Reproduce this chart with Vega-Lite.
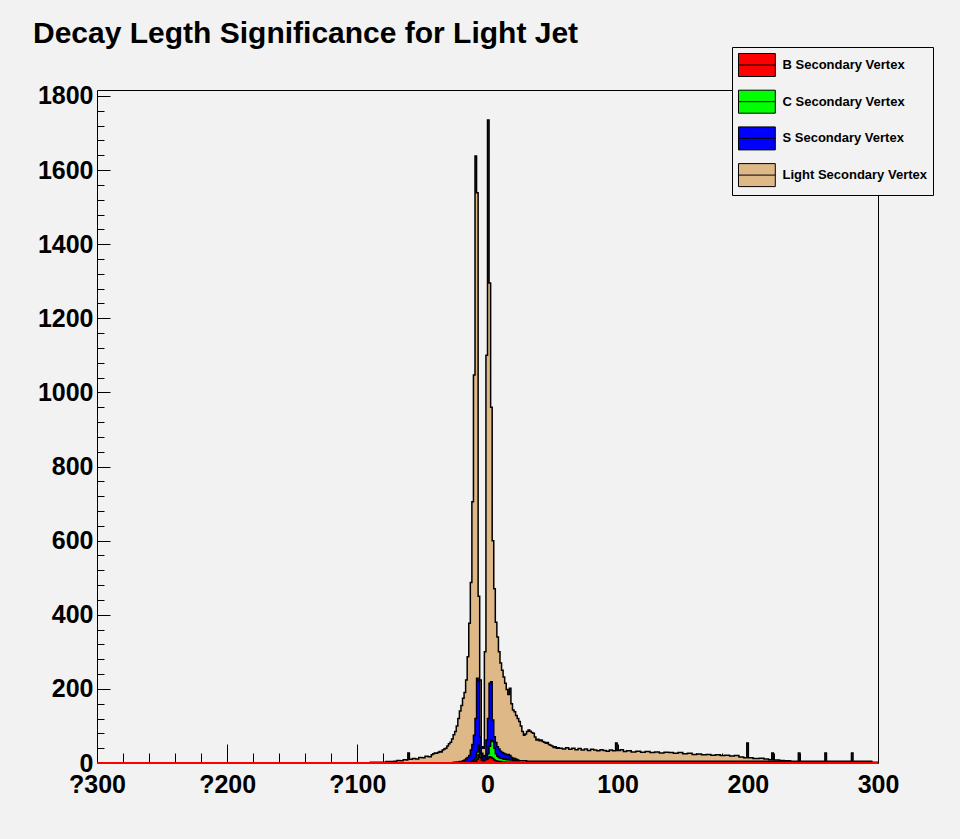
{
  "$schema": "https://vega.github.io/schema/vega-lite/v6.json",
  "width": 781,
  "height": 673,
  "autosize": {"type": "none"},
  "padding": {"left": 97, "top": 90, "right": 82, "bottom": 76},
  "background": "#f2f2f2",
  "config": {
    "view": {"stroke": "black", "strokeWidth": 1, "fill": "#f2f2f2"},
    "font": "Liberation Sans, Arial, sans-serif"
  },
  "title": {
    "text": "Decay Legth Significance for Light Jet",
    "anchor": "start",
    "frame": "group",
    "dx": -64,
    "offset": -26,
    "baseline": "alphabetic",
    "font": "Liberation Sans, Arial, sans-serif",
    "fontSize": 30,
    "fontWeight": "bold",
    "color": "black"
  },
  "datasets": {
    "light": [
      {"x": -300, "n": 0}, {"x": -90, "n": 2}, {"x": -78, "n": 4}, {"x": -72, "n": 5}, {"x": -69.6, "n": 7},
      {"x": -67.2, "n": 6}, {"x": -64.8, "n": 9}, {"x": -62.4, "n": 8}, {"x": -61.2, "n": 27}, {"x": -60, "n": 10},
      {"x": -57.6, "n": 12}, {"x": -55.2, "n": 11}, {"x": -52.8, "n": 15}, {"x": -50.4, "n": 14}, {"x": -48, "n": 18},
      {"x": -45.6, "n": 17}, {"x": -43.2, "n": 22}, {"x": -42, "n": 25}, {"x": -40.8, "n": 27}, {"x": -39.6, "n": 26},
      {"x": -38.4, "n": 28}, {"x": -37.2, "n": 31}, {"x": -36, "n": 30}, {"x": -34.8, "n": 35}, {"x": -33.6, "n": 38},
      {"x": -32.4, "n": 40}, {"x": -31.2, "n": 46}, {"x": -30, "n": 52}, {"x": -28.8, "n": 56}, {"x": -27.6, "n": 65},
      {"x": -26.4, "n": 76}, {"x": -25.2, "n": 85}, {"x": -24, "n": 100}, {"x": -22.8, "n": 120}, {"x": -21.6, "n": 140},
      {"x": -20.4, "n": 155}, {"x": -19.2, "n": 175}, {"x": -18, "n": 190}, {"x": -16.8, "n": 224}, {"x": -15.6, "n": 287},
      {"x": -14.4, "n": 377}, {"x": -13.2, "n": 487}, {"x": -12, "n": 705}, {"x": -10.8, "n": 1047}, {"x": -9.6, "n": 1638},
      {"x": -8.4, "n": 1539}, {"x": -7.2, "n": 450}, {"x": -6, "n": 224}, {"x": -4.8, "n": 44}, {"x": -3.6, "n": 40},
      {"x": -2.4, "n": 300}, {"x": -1.2, "n": 1100}, {"x": 0, "n": 1735}, {"x": 1.2, "n": 1295}, {"x": 2.4, "n": 960},
      {"x": 3.6, "n": 600}, {"x": 4.8, "n": 470}, {"x": 6, "n": 380}, {"x": 7.2, "n": 340}, {"x": 8.4, "n": 300},
      {"x": 9.6, "n": 270}, {"x": 10.8, "n": 250}, {"x": 12, "n": 232}, {"x": 13.2, "n": 215}, {"x": 14.4, "n": 198},
      {"x": 15.6, "n": 185}, {"x": 16.8, "n": 202}, {"x": 18, "n": 160}, {"x": 19.2, "n": 143}, {"x": 20.4, "n": 138},
      {"x": 21.6, "n": 128}, {"x": 22.8, "n": 120}, {"x": 24, "n": 112}, {"x": 25.2, "n": 100}, {"x": 26.4, "n": 85},
      {"x": 27.6, "n": 75}, {"x": 28.8, "n": 78}, {"x": 30, "n": 85}, {"x": 31.2, "n": 89}, {"x": 32.4, "n": 86},
      {"x": 33.6, "n": 82}, {"x": 34.8, "n": 80}, {"x": 36, "n": 70}, {"x": 37.2, "n": 62}, {"x": 38.4, "n": 64},
      {"x": 39.6, "n": 60}, {"x": 40.8, "n": 62}, {"x": 42, "n": 58}, {"x": 43.2, "n": 56}, {"x": 44.4, "n": 53},
      {"x": 45.6, "n": 55}, {"x": 46.8, "n": 50}, {"x": 48, "n": 48}, {"x": 49.2, "n": 46}, {"x": 50.4, "n": 42},
      {"x": 51.6, "n": 44}, {"x": 52.8, "n": 40}, {"x": 54, "n": 41}, {"x": 55.2, "n": 40}, {"x": 57.6, "n": 38},
      {"x": 60, "n": 41}, {"x": 62.4, "n": 37}, {"x": 64.8, "n": 40}, {"x": 67.2, "n": 36}, {"x": 69.6, "n": 39},
      {"x": 72, "n": 35}, {"x": 74.4, "n": 38}, {"x": 76.8, "n": 34}, {"x": 79.2, "n": 37}, {"x": 81.6, "n": 35},
      {"x": 84, "n": 33}, {"x": 86.4, "n": 36}, {"x": 88.8, "n": 34}, {"x": 91.2, "n": 32}, {"x": 93.6, "n": 35},
      {"x": 96, "n": 33}, {"x": 98.4, "n": 54}, {"x": 99.6, "n": 34}, {"x": 102, "n": 36}, {"x": 104.4, "n": 31},
      {"x": 106.8, "n": 33}, {"x": 110.4, "n": 30}, {"x": 114, "n": 32}, {"x": 117.6, "n": 29}, {"x": 121.2, "n": 31},
      {"x": 124.8, "n": 28}, {"x": 128.4, "n": 30}, {"x": 132, "n": 27}, {"x": 135.6, "n": 29}, {"x": 139.2, "n": 28},
      {"x": 142.8, "n": 26}, {"x": 146.4, "n": 28}, {"x": 150, "n": 25}, {"x": 153.6, "n": 26}, {"x": 157.2, "n": 23},
      {"x": 160.8, "n": 24}, {"x": 164.4, "n": 22}, {"x": 168, "n": 23}, {"x": 171.6, "n": 21}, {"x": 175.2, "n": 22},
      {"x": 178.8, "n": 20}, {"x": 182.4, "n": 21}, {"x": 186, "n": 19}, {"x": 189.6, "n": 20}, {"x": 193.2, "n": 16},
      {"x": 196.8, "n": 14}, {"x": 199.2, "n": 54}, {"x": 200.4, "n": 14}, {"x": 204, "n": 12}, {"x": 208.8, "n": 13},
      {"x": 212.4, "n": 11}, {"x": 216, "n": 9}, {"x": 218.4, "n": 27}, {"x": 219.6, "n": 8}, {"x": 224.4, "n": 7},
      {"x": 228, "n": 6}, {"x": 232.8, "n": 3}, {"x": 238.8, "n": 27}, {"x": 240, "n": 2}, {"x": 259.2, "n": 27},
      {"x": 260.4, "n": 2}, {"x": 279.6, "n": 27}, {"x": 280.8, "n": 2}, {"x": 300, "n": 2}
    ],
    "s": [
      {"x": -300, "n": 0}, {"x": -26.4, "n": 2}, {"x": -24, "n": 3}, {"x": -21.6, "n": 4}, {"x": -19.2, "n": 6},
      {"x": -18, "n": 8}, {"x": -16.8, "n": 12}, {"x": -15.6, "n": 15}, {"x": -14.4, "n": 20}, {"x": -13.2, "n": 35},
      {"x": -12, "n": 50}, {"x": -10.8, "n": 75}, {"x": -9.6, "n": 120}, {"x": -8.4, "n": 229}, {"x": -7.2, "n": 222},
      {"x": -6, "n": 70}, {"x": -4.8, "n": 26}, {"x": -3.6, "n": 17}, {"x": -2.4, "n": 20}, {"x": -1.2, "n": 62},
      {"x": 0, "n": 120}, {"x": 1.2, "n": 215}, {"x": 2.4, "n": 219}, {"x": 3.6, "n": 116}, {"x": 4.8, "n": 71},
      {"x": 6, "n": 55}, {"x": 7.2, "n": 44}, {"x": 8.4, "n": 38}, {"x": 9.6, "n": 32}, {"x": 10.8, "n": 28},
      {"x": 12, "n": 26}, {"x": 13.2, "n": 24}, {"x": 14.4, "n": 22}, {"x": 15.6, "n": 23}, {"x": 16.8, "n": 20},
      {"x": 18, "n": 15}, {"x": 19.2, "n": 13}, {"x": 20.4, "n": 12}, {"x": 21.6, "n": 10}, {"x": 22.8, "n": 8},
      {"x": 24, "n": 6}, {"x": 26.4, "n": 4}, {"x": 30, "n": 3}, {"x": 36, "n": 2}, {"x": 48, "n": 1},
      {"x": 96, "n": 0}, {"x": 300, "n": 0}
    ],
    "c": [
      {"x": -300, "n": 0}, {"x": -14.4, "n": 3}, {"x": -12, "n": 6}, {"x": -10.8, "n": 8}, {"x": -9.6, "n": 14},
      {"x": -8.4, "n": 30}, {"x": -7.2, "n": 48}, {"x": -6, "n": 25}, {"x": -4.8, "n": 10}, {"x": -3.6, "n": 8},
      {"x": -2.4, "n": 10}, {"x": -1.2, "n": 15}, {"x": 0, "n": 25}, {"x": 1.2, "n": 45}, {"x": 2.4, "n": 62},
      {"x": 3.6, "n": 58}, {"x": 4.8, "n": 40}, {"x": 6, "n": 25}, {"x": 7.2, "n": 18}, {"x": 8.4, "n": 15},
      {"x": 9.6, "n": 13}, {"x": 10.8, "n": 12}, {"x": 12, "n": 10}, {"x": 13.2, "n": 11}, {"x": 14.4, "n": 9},
      {"x": 15.6, "n": 10}, {"x": 16.8, "n": 8}, {"x": 18, "n": 9}, {"x": 19.2, "n": 7}, {"x": 24, "n": 6},
      {"x": 30, "n": 5}, {"x": 295.2, "n": 0}, {"x": 300, "n": 0}
    ],
    "b": [
      {"x": -300, "n": 0}, {"x": -12, "n": 2}, {"x": -10.8, "n": 3}, {"x": -9.6, "n": 5}, {"x": -8.4, "n": 10},
      {"x": -7.2, "n": 22}, {"x": -6, "n": 15}, {"x": -4.8, "n": 8}, {"x": -3.6, "n": 6}, {"x": -2.4, "n": 8},
      {"x": -1.2, "n": 10}, {"x": 0, "n": 12}, {"x": 1.2, "n": 17}, {"x": 2.4, "n": 15}, {"x": 3.6, "n": 12},
      {"x": 4.8, "n": 8}, {"x": 6, "n": 6}, {"x": 7.2, "n": 5}, {"x": 8.4, "n": 4}, {"x": 10.8, "n": 3},
      {"x": 13.2, "n": 2}, {"x": 24, "n": 1}, {"x": 300, "n": 1}
    ]
  },
  "layer": [
    {
      "data": {"name": "light"},
      "mark": {"type": "area", "interpolate": "step-after", "stroke": "black", "strokeWidth": 1.5, "fillOpacity": 1, "clip": true},
      "encoding": {
        "x": {
          "field": "x", "type": "quantitative",
          "scale": {"domain": [-300, 300], "nice": false, "zero": false},
          "axis": {
            "title": null, "domain": false, "grid": false, "tickCount": 1000,
            "values": [-300,-280,-260,-240,-220,-200,-180,-160,-140,-120,-100,-80,-60,-40,-20,0,20,40,60,80,100,120,140,160,180,200,220,240,260,280,300],
            "labelExpr": "datum.value % 100 === 0 ? (datum.value < 0 ? '?' : '') + abs(datum.value) : ''",
            "tickSize": {"condition": {"test": "datum.value % 100 === 0", "value": -19}, "value": -10},
            "tickColor": "black", "tickWidth": 1,
            "labelPadding": 28, "labelFlush": false, "labelOverlap": false,
            "labelFont": "Liberation Sans, Arial, sans-serif",
            "labelFontSize": 25, "labelFontWeight": "bold", "labelColor": "black"
          }
        },
        "y": {
          "field": "n", "type": "quantitative", "stack": null,
          "scale": {"domain": [0, 1816], "nice": false},
          "axis": {
            "title": null, "domain": false, "grid": false, "tickCount": 1000,
            "values": [0,40,80,120,160,200,240,280,320,360,400,440,480,520,560,600,640,680,720,760,800,840,880,920,960,1000,1040,1080,1120,1160,1200,1240,1280,1320,1360,1400,1440,1480,1520,1560,1600,1640,1680,1720,1760,1800],
            "labelExpr": "datum.value % 200 === 0 ? '' + datum.value : ''",
            "tickSize": {"condition": {"test": "datum.value % 200 === 0", "value": -13}, "value": -7},
            "tickColor": "black", "tickWidth": 1,
            "labelPadding": 17, "labelOverlap": false, "labelFlush": false,
            "labelFont": "Liberation Sans, Arial, sans-serif",
            "labelFontSize": 25, "labelFontWeight": "bold", "labelColor": "black"
          }
        },
        "color": {
          "datum": "Light Secondary Vertex", "type": "nominal",
          "scale": {
            "domain": ["B Secondary Vertex", "C Secondary Vertex", "S Secondary Vertex", "Light Secondary Vertex"],
            "range": ["#ff0000", "#00ff00", "#0000ff", "#deb887"]
          },
          "legend": {
            "title": null, "orient": "none", "legendX": 635, "legendY": -43,
            "padding": 6, "rowPadding": 8.7,
            "symbolType": "M-1,-1H2.2V1H-1ZM-1,0H2.2",
            "symbolSize": 529, "symbolStrokeColor": "black", "symbolStrokeWidth": 1, "symbolOpacity": 1,
            "labelOffset": 20.5, "labelLimit": 300,
            "labelFont": "Liberation Sans, Arial, sans-serif",
            "labelFontSize": 13, "labelFontWeight": "bold", "labelColor": "black",
            "fillColor": "#f2f2f2", "strokeColor": "black"
          }
        }
      }
    },
    {
      "data": {"name": "s"},
      "mark": {"type": "area", "interpolate": "step-after", "stroke": "black", "strokeWidth": 1.5, "fillOpacity": 1, "clip": true},
      "encoding": {
        "x": {"field": "x", "type": "quantitative"},
        "y": {"field": "n", "type": "quantitative", "stack": null},
        "color": {"datum": "S Secondary Vertex", "type": "nominal"}
      }
    },
    {
      "data": {"name": "c"},
      "mark": {"type": "area", "interpolate": "step-after", "stroke": "black", "strokeWidth": 1.5, "fillOpacity": 1, "clip": true},
      "encoding": {
        "x": {"field": "x", "type": "quantitative"},
        "y": {"field": "n", "type": "quantitative", "stack": null},
        "color": {"datum": "C Secondary Vertex", "type": "nominal"}
      }
    },
    {
      "data": {"name": "b"},
      "mark": {"type": "area", "interpolate": "step-after", "stroke": "black", "strokeWidth": 1.5, "fillOpacity": 1, "clip": true},
      "encoding": {
        "x": {"field": "x", "type": "quantitative"},
        "y": {"field": "n", "type": "quantitative", "stack": null},
        "color": {"datum": "B Secondary Vertex", "type": "nominal"}
      }
    },
    {
      "data": {"values": [{"n": 0}]},
      "mark": {"type": "rule", "color": "#ff0000", "strokeWidth": 2},
      "encoding": {
        "y": {"field": "n", "type": "quantitative"}
      }
    }
  ]
}
